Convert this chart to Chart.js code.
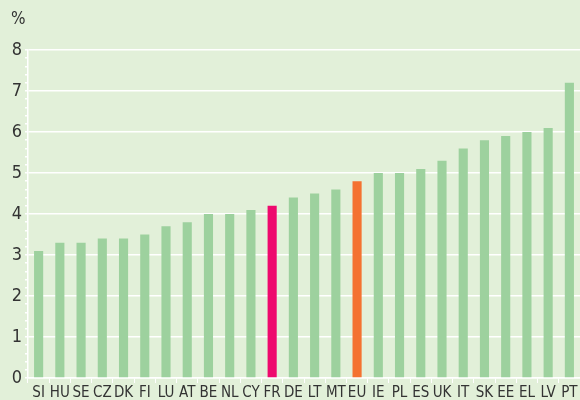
<!DOCTYPE html>
<html>
<head>
<meta charset="utf-8">
<script src="https://cdn.jsdelivr.net/npm/chart.js@4/dist/chart.umd.min.js"></script>
<style>
  html, body { margin: 0; padding: 0; background: #e2f0d9; }
  #wrap { position: relative; width: 580px; height: 400px; }
  #unit { position: absolute; left: 11px; top: 8px; font: 17px "Liberation Sans Narrow", "DejaVu Sans Condensed", sans-serif; color: #333; }
</style>
</head>
<body>
<div id="wrap">
  <div id="unit">%</div>
  <canvas id="chart" width="580" height="400"></canvas>
</div>
<script>
// countries, sorted by value
const countries = ['SI', 'HU', 'SE', 'CZ', 'DK', 'FI', 'LU', 'AT', 'BE', 'NL', 'CY', 'FR', 'DE',
    'LT', 'MT', 'EU', 'IE', 'PL', 'ES', 'UK', 'IT', 'SK', 'EE', 'EL', 'LV', 'PT'];
const values = [3.1, 3.3, 3.3, 3.4, 3.4, 3.5, 3.7, 3.8, 4.0, 4.0, 4.1, 4.2, 4.4,
    4.5, 4.6, 4.8, 5.0, 5.0, 5.1, 5.3, 5.6, 5.8, 5.9, 6.0, 6.1, 7.2];
const highlight = { FR: '#ee0a6e', EU: '#f47231' };

const font = '"Liberation Sans Narrow", "DejaVu Sans Condensed", sans-serif';
const isInt = v => Math.abs(v - Math.round(v)) < 1e-6;

const ctx = document.getElementById('chart').getContext('2d');
new Chart(ctx, {
    type: 'bar',
    data: {
        labels: countries,
        datasets: [{
            data: values,
            backgroundColor: countries.map(c => highlight[c] || '#9dd19e'),
            barPercentage: 0.43,
            categoryPercentage: 1
        }]
    },
    options: {
        responsive: false,
        animation: false,
        layout: { padding: { top: 50, right: 0, bottom: 0, left: 0 } },
        plugins: { legend: { display: false }, tooltip: { enabled: false } },
        scales: {
            x: {
                grid: { drawOnChartArea: false, color: '#ffffff', tickLength: 5, offset: true },
                border: { color: '#ffffff', width: 1.5 },
                ticks: { color: '#333', font: { family: font, size: 15 }, padding: 1, maxRotation: 0, autoSkip: false },
                afterFit: s => { s.height = 22; }
            },
            y: {
                min: 0,
                max: 8,
                ticks: {
                    stepSize: 0.2,
                    autoSkip: false,
                    color: '#333',
                    font: { family: font, size: 18 },
                    padding: 3,
                    callback: v => isInt(v) ? String(Math.round(v)) : ''
                },
                grid: {
                    color: c => isInt(c.tick.value) ? '#ffffff' : 'rgba(0,0,0,0)',
                    lineWidth: 1.5,
                    tickColor: '#ffffff',
                    tickLength: 3
                },
                border: { color: '#ffffff', width: 1.5 },
                afterFit: s => { s.width = 28; }
            }
        }
    }
});
</script>
</body>
</html>
